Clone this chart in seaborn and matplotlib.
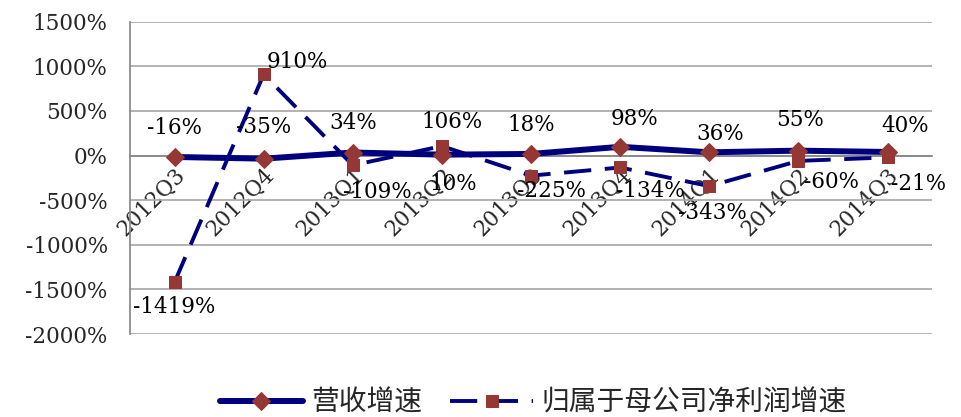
import matplotlib
matplotlib.use("Agg")
import matplotlib.pyplot as plt
import seaborn as sns
import pandas as pd
from matplotlib.ticker import FixedLocator, FuncFormatter

quarters = ["2012Q3", "2012Q4", "2013Q1", "2013Q2", "2013Q3", "2013Q4", "2014Q1", "2014Q2", "2014Q3"]
revenue_growth = [-16, -35, 34, 10, 18, 98, 36, 55, 40]
profit_growth = [-1419, 910, -109, 106, -225, -134, -343, -60, -21]
series_names = ["营收增速", "归属于母公司净利润增速"]
y_ticks = [-2000, -1500, -1000, -500, 0, 500, 1000, 1500]

# label offsets in points (style only)
rev_offsets = [(0, 21), (0, 23), (0, 21), (8, -21), (0, 21), (10, 20), (8, 13), (1, 22), (13, 19)]
prof_offsets = [(0, -18), (24, 9), (18, -19), (7, 17), (15, -11), (22, -17), (2, -19), (24, -15), (22, -19)]

sns.set_theme(style="white")
plt.rcParams["font.family"] = ["DejaVu Serif", "Noto Sans CJK SC", "DejaVu Sans"]

navy = "#00007F"
brown = "#953735"

df = pd.DataFrame({"quarter": quarters, "rev": revenue_growth, "prof": profit_growth})
df["pos"] = range(len(quarters))

fig = plt.figure(figsize=(9.61, 4.17), dpi=100)
ax = fig.add_axes([0.1353, 0.199, 0.8347, 0.749])
ax.spines["bottom"].set_position(("data", 0))

sns.lineplot(data=df, x="pos", y="rev", ax=ax, color=navy, linewidth=4.3,
             marker="D", markersize=9, markerfacecolor=brown, markeredgecolor=brown,
             label=series_names[0], sort=False, zorder=4)
sns.lineplot(data=df, x="pos", y="prof", ax=ax, color=navy, linewidth=2.8,
             linestyle=(0, (7, 3.5)), marker="s", markersize=8,
             markerfacecolor=brown, markeredgecolor=brown,
             label=series_names[1], sort=False, zorder=3)

fs = 15.5
for i, v in enumerate(revenue_growth):
    ax.annotate(f"{v}%", (i, v), xytext=rev_offsets[i], textcoords="offset points",
                ha="center", va="center", fontsize=fs, color="black", zorder=6)
for i, v in enumerate(profit_growth):
    ax.annotate(f"{v}%", (i, v), xytext=prof_offsets[i], textcoords="offset points",
                ha="center", va="center", fontsize=fs, color="black", zorder=6)

ax.set_xlim(-0.5, len(quarters) - 0.5)
ax.set_ylim(-2000, 1500)
ax.yaxis.set_major_locator(FixedLocator(y_ticks))
ax.yaxis.set_major_formatter(FuncFormatter(lambda v, p: f"{int(v)}%"))
ax.grid(axis="y", color="#A6A6A6", linewidth=1.2)
ax.set_axisbelow(True)

ax.spines["bottom"].set_color("#888888")
ax.spines["left"].set_color("#888888")
ax.spines["top"].set_visible(False)
ax.spines["right"].set_visible(False)

ax.set_xticks(range(len(quarters)))
ax.set_xticklabels(quarters, rotation=45, ha="right", rotation_mode="anchor", fontsize=fs)
ax.set_xticks([i + 0.5 for i in range(-1, len(quarters))], minor=True)
ax.tick_params(axis="x", which="major", length=0, pad=6)
ax.tick_params(axis="x", which="minor", length=5, color="#888888", width=1, direction="out")
ax.tick_params(axis="y", length=6, color="#888888", width=1, pad=10, labelsize=fs)
ax.set_xlabel("")
ax.set_ylabel("")

handles, labels = ax.get_legend_handles_labels()
ax.get_legend().remove()
fig.legend(handles, labels, loc="lower center", bbox_to_anchor=(0.555, -0.062), ncol=2,
           frameon=False, handlelength=3.0, columnspacing=1.0, handletextpad=0.3,
           prop={"family": ["Noto Sans CJK SC"], "size": 20})

fig.savefig("out.png", dpi=100)
